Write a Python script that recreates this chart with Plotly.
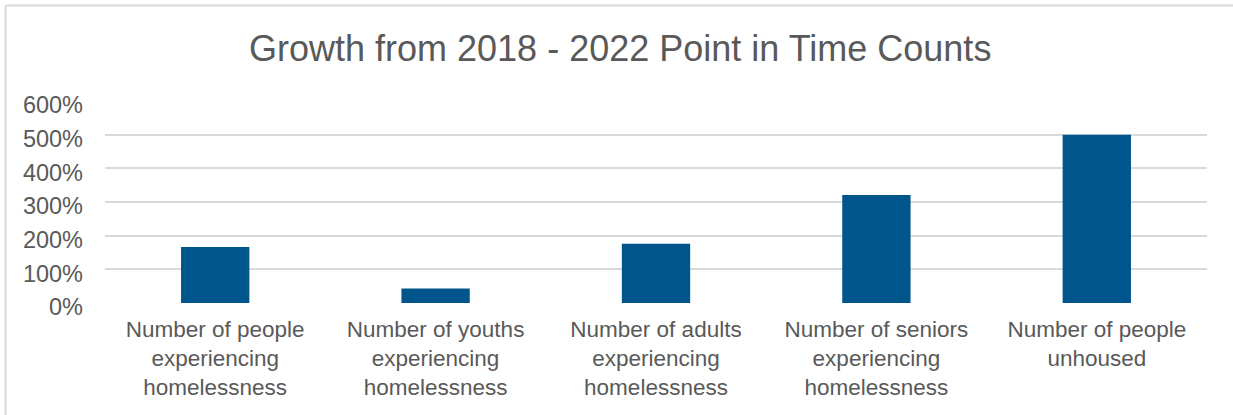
import plotly.graph_objects as go

categories = [
    "Number of people<br>experiencing<br>homelessness",
    "Number of youths<br>experiencing<br>homelessness",
    "Number of adults<br>experiencing<br>homelessness",
    "Number of seniors<br>experiencing<br>homelessness",
    "Number of people<br>unhoused",
]
growth = [1.66, 0.43, 1.76, 3.21, 5.00]
y_ticks = [0, 1, 2, 3, 4, 5, 6]

W, H = 1233, 415
L, R, T, B = 105, 26, 101, 112

fig = go.Figure(go.Bar(
    x=categories, y=growth,
    marker=dict(color="#00558C", line=dict(width=0)),
    width=0.31,
))

FONT = "Liberation Sans, Arial, sans-serif"
fig.update_layout(
    width=W, height=H,
    margin=dict(l=L, r=R, t=T, b=B),
    paper_bgcolor="white", plot_bgcolor="white",
    showlegend=False,
    font=dict(family=FONT, color="#595959", size=22),
    title=dict(text="Growth from 2018 - 2022 Point in Time Counts",
               x=0.503, xref="container", xanchor="center",
               y=1 - 48 / H, yref="container", yanchor="middle",
               font=dict(size=36, color="#595959", family=FONT)),
    xaxis=dict(showgrid=False, showline=False, zeroline=False,
               ticklabelstandoff=10,
               tickfont=dict(size=22.5, color="#595959"), ticks=""),
    yaxis=dict(range=[0, 6], tickvals=y_ticks, tickformat=".0%",
               showgrid=True, gridcolor="#D9D9D9", gridwidth=2,
               zeroline=False, showline=False, ticks="",
               ticklabelstandoff=21, ticklabelshift=4,
               tickfont=dict(size=23.5, color="#595959")),
)

pw, ph = W - L - R, H - T - B
x0 = (5.5 - L) / pw
y1 = (H - B - 5.5) / ph
fig.add_shape(type="line", xref="paper", yref="paper",
              x0=x0, x1=x0, y0=-1, y1=y1, line=dict(color="#D9D9D9", width=2))
fig.add_shape(type="line", xref="paper", yref="paper",
              x0=x0, x1=1.2, y0=y1, y1=y1, line=dict(color="#D9D9D9", width=2))

fig.write_html("out.html")
